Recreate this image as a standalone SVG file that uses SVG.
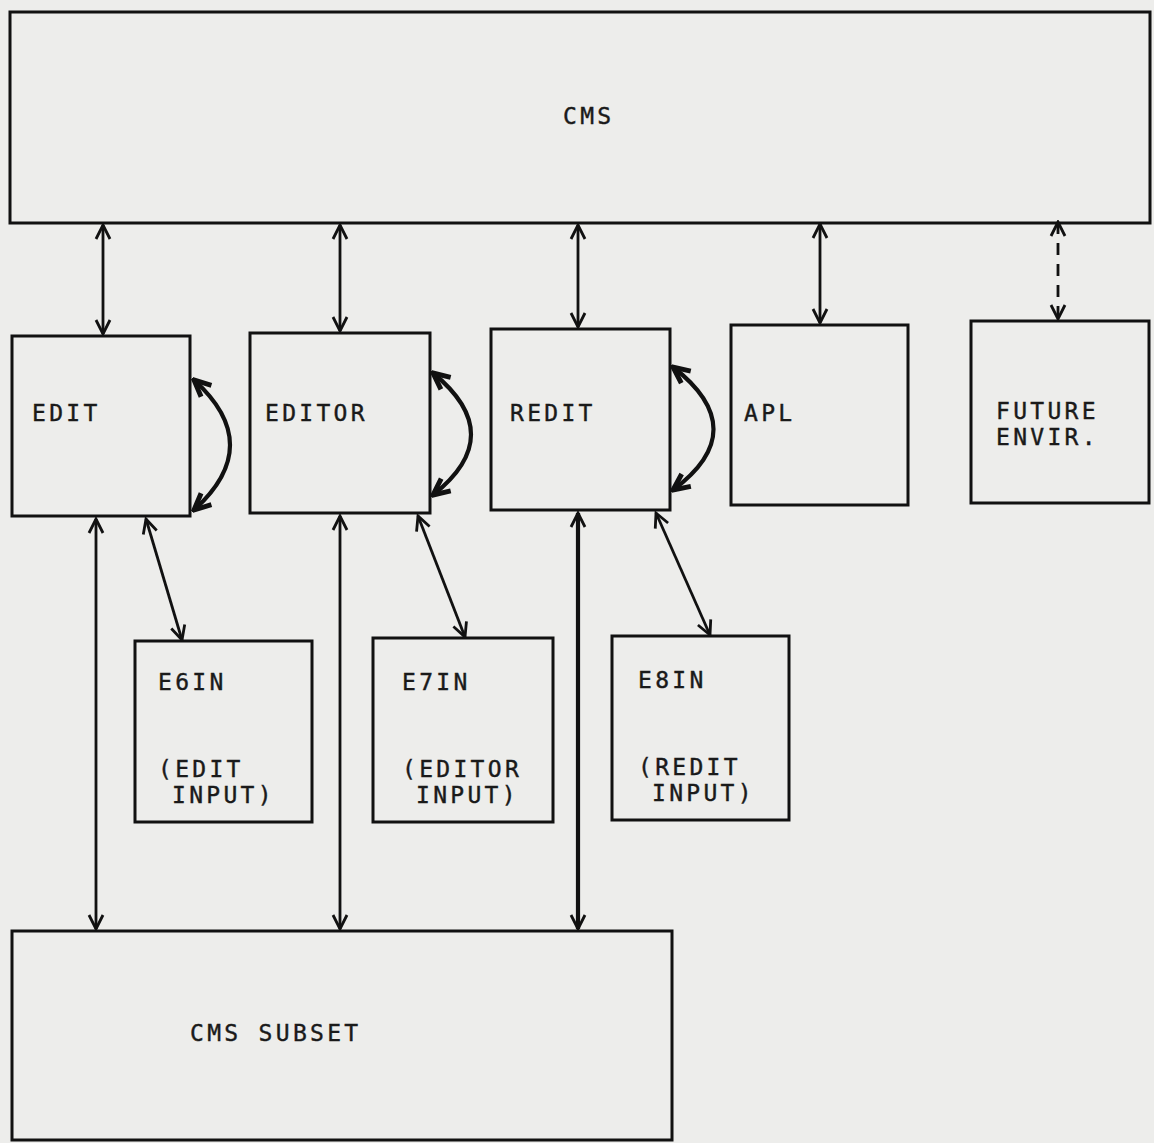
<svg xmlns="http://www.w3.org/2000/svg" width="1154" height="1143" viewBox="0 0 1154 1143">
<style>
.box{fill:none;stroke:#111;stroke-width:3}
.lbl{font-family:"DejaVu Sans Mono","Liberation Mono",monospace;font-size:23px;fill:#1a1a1a;letter-spacing:3.3px;stroke:#1a1a1a;stroke-width:0.4}
.con{fill:none;stroke:#111;stroke-width:2.8}
.thick{stroke-width:4.2}
.dash{stroke-dasharray:12 9}
</style>
<defs>
<marker id="ah" viewBox="0 0 20 20" refX="18" refY="10" markerWidth="20" markerHeight="20" markerUnits="userSpaceOnUse" orient="auto-start-reverse">
<path d="M4,3 L18,10 L4,17" fill="none" stroke="#111" stroke-width="2.8"/>
</marker>
<marker id="ahb" viewBox="0 0 20 20" refX="18" refY="10" markerWidth="22" markerHeight="22" markerUnits="userSpaceOnUse" orient="auto-start-reverse">
<path d="M3,3 L18,10 L3,17" fill="none" stroke="#111" stroke-width="4.5"/>
</marker>
</defs>
<rect width="1154" height="1143" fill="#ededeb"/>
<g id="cms"><rect class="box" x="10" y="12" width="1140" height="211"/><text class="lbl" x="563" y="124">CMS</text></g>
<g id="edit"><rect class="box" x="12" y="336" width="178" height="180"/><text class="lbl" x="32" y="421">EDIT</text></g>
<g id="editor"><rect class="box" x="250" y="333" width="180" height="180"/><text class="lbl" x="265" y="421">EDITOR</text></g>
<g id="redit"><rect class="box" x="491" y="329" width="179" height="181"/><text class="lbl" x="510" y="421">REDIT</text></g>
<g id="apl"><rect class="box" x="731" y="325" width="177" height="180"/><text class="lbl" x="744" y="421">APL</text></g>
<g id="future"><rect class="box" x="971" y="321" width="178" height="182"/><text class="lbl" x="996" y="419">FUTURE</text><text class="lbl" x="996" y="445">ENVIR.</text></g>
<g id="e6in"><rect class="box" x="135" y="641" width="177" height="181"/><text class="lbl" x="158" y="690">E6IN</text><text class="lbl" x="158" y="777">(EDIT</text><text class="lbl" x="172" y="803">INPUT)</text></g>
<g id="e7in"><rect class="box" x="373" y="638" width="180" height="184"/><text class="lbl" x="402" y="690">E7IN</text><text class="lbl" x="402" y="777">(EDITOR</text><text class="lbl" x="416" y="803">INPUT)</text></g>
<g id="e8in"><rect class="box" x="612" y="636" width="177" height="184"/><text class="lbl" x="638" y="688">E8IN</text><text class="lbl" x="638" y="775">(REDIT</text><text class="lbl" x="652" y="801">INPUT)</text></g>
<g id="cmssubset"><rect class="box" x="12" y="931" width="660" height="209"/><text class="lbl" x="190" y="1041">CMS SUBSET</text></g>
<g id="connectors">
<line class="con" x1="103" y1="225" x2="103" y2="334" marker-start="url(#ah)" marker-end="url(#ah)"/>
<line class="con" x1="340" y1="225" x2="340" y2="331" marker-start="url(#ah)" marker-end="url(#ah)"/>
<line class="con" x1="578" y1="225" x2="578" y2="327" marker-start="url(#ah)" marker-end="url(#ah)"/>
<line class="con" x1="820" y1="224" x2="820" y2="323" marker-start="url(#ah)" marker-end="url(#ah)"/>
<line class="con dash" x1="1058" y1="222" x2="1058" y2="319" marker-start="url(#ah)" marker-end="url(#ah)"/>
<path class="con thick" d="M194,380 Q266,445 194,510" marker-start="url(#ahb)" marker-end="url(#ahb)"/>
<path class="con thick" d="M433,373 Q509,435 433,495" marker-start="url(#ahb)" marker-end="url(#ahb)"/>
<path class="con thick" d="M673,367 Q754,430 673,490" marker-start="url(#ahb)" marker-end="url(#ahb)"/>
<line class="con" x1="146" y1="519" x2="182" y2="640" marker-start="url(#ah)" marker-end="url(#ah)"/>
<line class="con" x1="418" y1="516" x2="465" y2="637" marker-start="url(#ah)" marker-end="url(#ah)"/>
<line class="con" x1="656" y1="513" x2="710" y2="635" marker-start="url(#ah)" marker-end="url(#ah)"/>
<line class="con" x1="96" y1="519" x2="96" y2="929" marker-start="url(#ah)" marker-end="url(#ah)"/>
<line class="con" x1="340" y1="516" x2="340" y2="929" marker-start="url(#ah)" marker-end="url(#ah)"/>
<line class="con thick" x1="578" y1="513" x2="578" y2="929" marker-start="url(#ah)" marker-end="url(#ah)"/>
</g>
</svg>
